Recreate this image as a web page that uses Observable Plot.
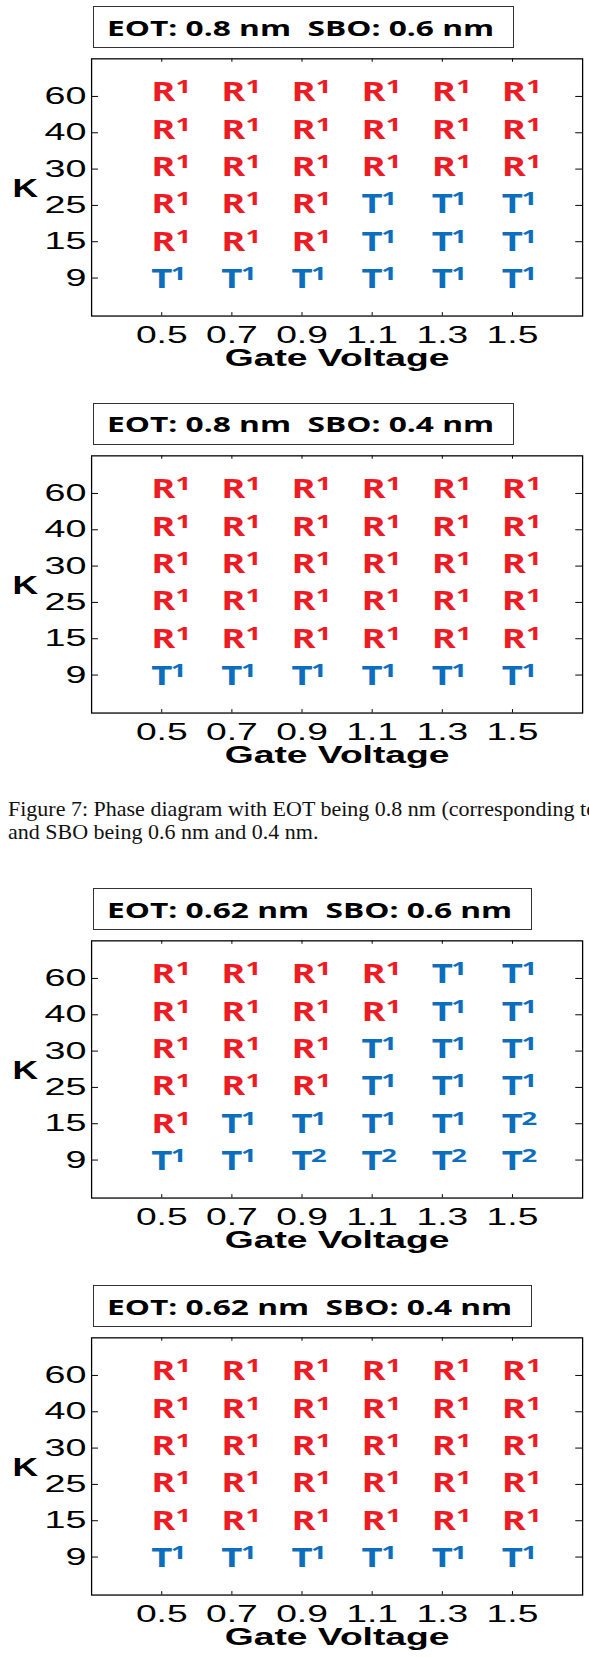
<!DOCTYPE html>
<html>
<head>
<meta charset="utf-8">
<script src="https://cdn.jsdelivr.net/npm/d3@7"></script>
<script src="https://cdn.jsdelivr.net/npm/@observablehq/plot@0.6"></script>
<style>
  html, body { margin: 0; padding: 0; width: 589px; height: 1657px; overflow: hidden; background: #fff; }
  .panel { position: absolute; left: 0; width: 589px; height: 400px; }
  .title { position: absolute; left: 92.7px; top: 6px; height: 42px; box-sizing: border-box;
           border: 1.3px solid #333; background: #fff; z-index: 2; }
  .title span { position: absolute; left: 13.6px; top: 8.9px; white-space: pre;
           font: bold 22px/22px "Open Sans"; color: #000; transform-origin: 0 50%; }
  .chart { position: absolute; left: 0; top: 40px; z-index: 1; }
  .overlay { position: absolute; left: 0; top: 40px; z-index: 3; }
  .caption { position: absolute; left: 8px; white-space: pre; font: 22px/22.6px "Liberation Serif"; color: #111; }
</style>
</head>
<body>
<script>
// ---------------- data ----------------
const gateVoltage = [0.5, 0.7, 0.9, 1.1, 1.3, 1.5];
const kValues = [60, 40, 30, 25, 15, 9];           // top to bottom

const panelTitles = [
  "EOT: 0.8 nm  SBO: 0.6 nm",
  "EOT: 0.8 nm  SBO: 0.4 nm",
  "EOT: 0.62 nm  SBO: 0.6 nm",
  "EOT: 0.62 nm  SBO: 0.4 nm"
];

// phase labels: rows follow kValues, columns follow gateVoltage
const phaseEot080Sbo060 = [
  ["R1", "R1", "R1", "R1", "R1", "R1"],
  ["R1", "R1", "R1", "R1", "R1", "R1"],
  ["R1", "R1", "R1", "R1", "R1", "R1"],
  ["R1", "R1", "R1", "T1", "T1", "T1"],
  ["R1", "R1", "R1", "T1", "T1", "T1"],
  ["T1", "T1", "T1", "T1", "T1", "T1"]
];
const phaseEot080Sbo040 = [
  ["R1", "R1", "R1", "R1", "R1", "R1"],
  ["R1", "R1", "R1", "R1", "R1", "R1"],
  ["R1", "R1", "R1", "R1", "R1", "R1"],
  ["R1", "R1", "R1", "R1", "R1", "R1"],
  ["R1", "R1", "R1", "R1", "R1", "R1"],
  ["T1", "T1", "T1", "T1", "T1", "T1"]
];
const phaseEot062Sbo060 = [
  ["R1", "R1", "R1", "R1", "T1", "T1"],
  ["R1", "R1", "R1", "R1", "T1", "T1"],
  ["R1", "R1", "R1", "T1", "T1", "T1"],
  ["R1", "R1", "R1", "T1", "T1", "T1"],
  ["R1", "T1", "T1", "T1", "T1", "T2"],
  ["T1", "T1", "T2", "T2", "T2", "T2"]
];
const phaseEot062Sbo040 = [
  ["R1", "R1", "R1", "R1", "R1", "R1"],
  ["R1", "R1", "R1", "R1", "R1", "R1"],
  ["R1", "R1", "R1", "R1", "R1", "R1"],
  ["R1", "R1", "R1", "R1", "R1", "R1"],
  ["R1", "R1", "R1", "R1", "R1", "R1"],
  ["T1", "T1", "T1", "T1", "T1", "T1"]
];
const panelGrids = [phaseEot080Sbo060, phaseEot080Sbo040, phaseEot062Sbo060, phaseEot062Sbo040];

const xLabel = "Gate Voltage";
const yLabel = "K";
const captionLines = [
  "Figure 7: Phase diagram with EOT being 0.8 nm (corresponding to",
  "and SBO being 0.6 nm and 0.4 nm."
];

// ---------------- layout / style ----------------
const panelTops = [0, 396.5, 882, 1279];
const RED = "#ED1C24", BLUE = "#0D6EBD";
const W = 600, H = 345, mL = 92.8, mR = 7, mT = 18.7, mB = 64.3;
const frameW = W - mL - mR, frameH = H - mT - mB;
// the phase labels sit on a slightly wider row pitch than the tick marks
const labelMarginTop = 21.55, labelMarginBottom = 52.2;

function stretchTexts(texts, s) {
  texts.forEach(t => {
    const x = parseFloat(t.getAttribute("x")) || 0;
    const tr = t.getAttribute("transform") || "";
    t.setAttribute("transform", `${tr} translate(${x},0) scale(${s},1) translate(${-x},0)`);
  });
}
function groupTexts(svg, desc, fallbackIndex) {
  let g = svg.querySelector(`g[aria-description="${desc}"]`);
  if (!g) g = svg.querySelectorAll('g[aria-label="text"]')[fallbackIndex];
  return g ? Array.from(g.querySelectorAll("text")) : [];
}

panelGrids.forEach((grid, p) => {
  const panel = document.createElement("div");
  panel.className = "panel";
  panel.style.top = panelTops[p] + "px";
  document.body.appendChild(panel);

  const title = document.createElement("div");
  title.className = "title";
  const span = document.createElement("span");
  span.textContent = panelTitles[p];
  span.style.transform = "scaleX(1.44)";
  title.appendChild(span);
  panel.appendChild(title);

  const cells = kValues.flatMap((k, i) => gateVoltage.map((v, j) => ({k, v, label: grid[i][j]})));
  const colorOf = d => d.label[0] === "R" ? RED : BLUE;

  // axes, frame, ticks
  const svg = Plot.plot({
    width: W, height: H,
    marginLeft: mL, marginRight: mR, marginTop: mT, marginBottom: mB,
    x: {domain: [0.3, 1.7]},
    y: {type: "point", domain: kValues, padding: 1},
    style: {fontFamily: "Liberation Sans", fontSize: "24px", background: "transparent", color: "black", overflow: "visible"},
    marks: [
      Plot.frame({stroke: "black", strokeWidth: 1.3}),
      Plot.tickY(kValues, {y: d => d, stroke: "black", strokeWidth: 1, insetRight: frameW - 7}),
      Plot.tickY(kValues, {y: d => d, stroke: "black", strokeWidth: 1, insetLeft: frameW - 7}),
      Plot.tickX(gateVoltage, {x: d => d, stroke: "black", strokeWidth: 1, insetBottom: frameH - 3.5}),
      Plot.tickX(gateVoltage, {x: d => d, stroke: "black", strokeWidth: 1, insetTop: frameH - 3.5}),
      Plot.axisX(gateVoltage, {tickSize: 0, tickPadding: 10.6, tickFormat: d => d.toFixed(1), label: null, fontSize: 24, fill: "black"}),
      Plot.axisY(kValues, {tickSize: 0, tickPadding: 5.3, label: null, fontSize: 24, fill: "black"}),
      Plot.text([yLabel], {frameAnchor: "left", dx: -67.5, dy: 1, lineAnchor: "middle", textAnchor: "middle",
        fontWeight: "bold", fontSize: 26.5, fill: "black", ariaDescription: "k-label"}),
      Plot.text([xLabel], {frameAnchor: "bottom", dx: 0, dy: 51, lineAnchor: "bottom", textAnchor: "middle",
        fontWeight: "bold", fontSize: 24, fill: "black", ariaDescription: "v-label"})
    ]
  });
  svg.style.display = "block";
  const chart = document.createElement("div");
  chart.className = "chart";
  chart.appendChild(svg);
  panel.appendChild(chart);
  stretchTexts(Array.from(svg.querySelectorAll('g[aria-label="x-axis tick label"] text')), 1.58);
  stretchTexts(Array.from(svg.querySelectorAll('g[aria-label="y-axis tick label"] text')), 1.6);
  stretchTexts(groupTexts(svg, "k-label", 0), 1.36);
  stretchTexts(groupTexts(svg, "v-label", 1), 1.58);

  // phase labels (letter + superscript)
  const common = {x: "v", y: "k", fill: colorOf, textAnchor: "start", lineAnchor: "bottom",
                  fontFamily: "Open Sans", fontWeight: "bold"};
  const over = Plot.plot({
    width: W, height: H,
    marginLeft: mL, marginRight: mR, marginTop: labelMarginTop, marginBottom: labelMarginBottom,
    x: {domain: [0.3, 1.7], axis: null},
    y: {type: "point", domain: kValues, padding: 1, axis: null},
    style: {background: "transparent", overflow: "visible"},
    marks: [
      Plot.text(cells, {...common, text: d => d.label[0], dx: -10.8, fontSize: 26.6, ariaDescription: "phase"}),
      Plot.text(cells.filter(d => d.label[0] === "R"), {...common, text: d => d.label.slice(1),
        dx: 13.9, dy: -8.2, fontSize: 17.5, ariaDescription: "sup-r"}),
      Plot.text(cells.filter(d => d.label[0] !== "R"), {...common, text: d => d.label.slice(1),
        dx: 9.2, dy: -8.2, fontSize: 17.5, ariaDescription: "sup-t"})
    ]
  });
  over.style.display = "block";
  const overlay = document.createElement("div");
  overlay.className = "overlay";
  overlay.appendChild(over);
  panel.appendChild(overlay);
  stretchTexts(groupTexts(over, "phase", 0), 1.4);
  stretchTexts(groupTexts(over, "sup-r", 1), 1.6);
  stretchTexts(groupTexts(over, "sup-t", 2), 1.6);

  // size the title box to its text
  const w = span.getBoundingClientRect().width;
  title.style.width = (w + 34) + "px";
});

captionLines.forEach((line, i) => {
  const c = document.createElement("div");
  c.className = "caption";
  c.style.top = (798 + i * 22.6) + "px";
  c.textContent = line;
  document.body.appendChild(c);
});
</script>
</body>
</html>
